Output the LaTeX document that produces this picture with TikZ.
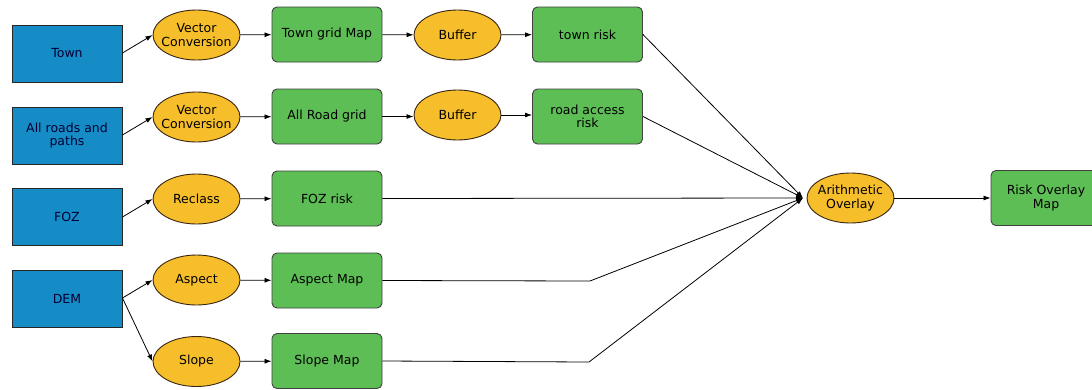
\documentclass[tikz,border=0pt]{standalone}
\usepackage{fontspec}
\setmainfont{DejaVu Sans}
\usetikzlibrary{positioning,arrows,arrows.meta,shapes.geometric}
\definecolor{inblue}{RGB}{22,140,198}
\definecolor{toolyel}{RGB}{247,190,44}
\definecolor{mapgreen}{RGB}{94,190,86}
\tikzset{input/.style={draw=black!85,line width=0.9pt,fill=inblue,minimum width=110pt,minimum height=57pt,inner sep=1pt,align=center,text=black!80!blue}}
\tikzset{tool/.style={ellipse,draw=black!70!brown,line width=0.9pt,fill=toolyel,minimum width=87pt,minimum height=50pt,inner xsep=-12pt,inner ysep=0pt,align=center}}
\tikzset{output/.style={draw=black!75,line width=0.9pt,fill=mapgreen,rounded corners=5pt,minimum width=110pt,minimum height=55pt,inner sep=1pt,align=center}}
\tikzset{link/.style={->,>={Latex[length=7pt,width=5pt]},line width=0.8pt}}

\begin{document}
\begin{tikzpicture}
            [x=1pt,y=-1pt,
            every node/.style={font=\fontsize{12.5}{13.5}\selectfont}]
  \useasboundingbox (0,0) rectangle (1092,389);
  % Input layers
  \node[input] (town)  at (67,53.5) {Town};
  \node[input] (roads) at (67,135.5) {All roads and\\paths};
  \node[input] (foz)   at (67,217) {FOZ};
  \node[input] (dem)   at (67,299) {DEM};

  % First tools
  \node[tool] (vecA)    at (196.5,35) {Vector\\Conversion};
  \node[tool] (vecB)    at (196.5,117) {Vector\\Conversion};
  \node[tool] (reclass) at (196.5,199) {Reclass};
  \node[tool] (aspect)  at (196.5,280) {Aspect};
  \node[tool] (slope)   at (196.5,361.5) {Slope};

  % Derived grids
  \node[output] (towngrid) at (327,34.5) {Town grid Map};
  \node[output] (roadgrid) at (327,116.5) {All Road grid};
  \node[output] (fozrisk)  at (327,198.5) {FOZ risk};
  \node[output] (aspmap)   at (327,280.5) {Aspect Map};
  \node[output] (slopemap) at (327,361) {Slope Map};

  \node[tool]   (bufA)     at (457.5,35) {Buffer};
  \node[tool]   (bufB)     at (457.5,115) {Buffer};
  \node[output] (townrisk) at (587.5,34.5) {town risk};
  \node[output] (roadrisk) at (587.5,116.5) {road access\\risk};

  \node[tool]   (overlay)  at (850.5,198) {Arithmetic\\Overlay};
  \node[output] (riskmap)  at (1046,198) {Risk Overlay\\Map};

  \coordinate (join) at (803,198);
  \coordinate (aspbend) at (590,281);
  \coordinate (slopebend) at (589,362);

  % Connectors
  \draw[link] (town.east |- 0,53) -- (vecA.west);
  \draw[link] (roads.east |- 0,135) -- (vecB.west);
  \draw[link] (foz.east |- 0,217) -- (reclass.west);
  \draw[link] (dem.east |- 0,298) -- (aspect.west);
  \draw[link] (dem.east |- 0,298) -- (slope.west);
  \draw[link] (vecA) -- (towngrid);
  \draw[link] (vecB) -- (roadgrid);
  \draw[link] (reclass) -- (fozrisk);
  \draw[link] (aspect) -- (aspmap);
  \draw[link] (slope) -- (slopemap);
  \draw[link] (towngrid) -- (bufA);
  \draw[link] (roadgrid.east) -- (bufB.west |- roadgrid.east);
  \draw[link] (bufA) -- (townrisk);
  \draw[link] (bufB.east) -- (roadrisk.west |- bufB.east);
  \draw[link] (townrisk.east) -- (join);
  \draw[link] (roadrisk.east) -- (join);
  \draw[link] (fozrisk.east) -- (join);
  \draw[link] (aspmap.east) -- (aspbend) -- (join);
  \draw[link] (slopemap.east) -- (slopebend) -- (join);
  \draw[link] (overlay) -- (riskmap);
\end{tikzpicture}
\end{document}
